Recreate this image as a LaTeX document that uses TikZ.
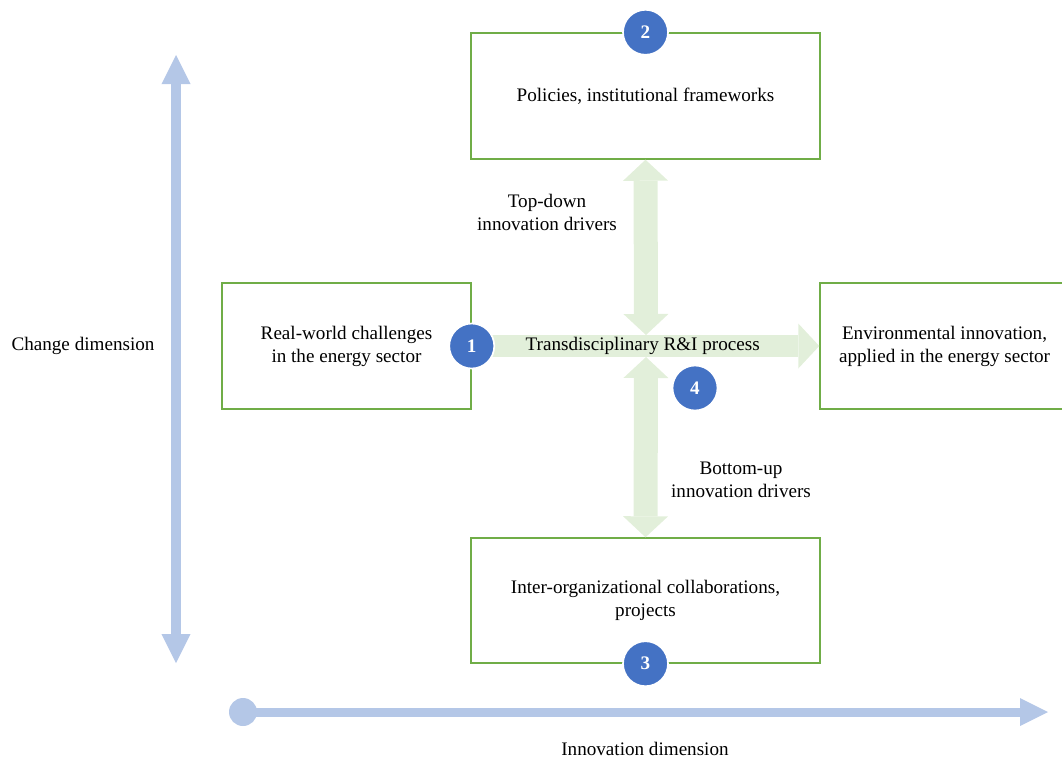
\documentclass[tikz,border=0pt]{standalone}
\usepackage{fontspec}
\setmainfont{Liberation Serif}
\usepackage{xcolor}
\usetikzlibrary{arrows.meta,positioning}

\definecolor{boxgreen}{HTML}{70AD47}
\definecolor{flowgreen}{HTML}{E2EFDA}
\definecolor{dotblue}{HTML}{4472C4}
\definecolor{axisblue}{HTML}{B4C7E7}

\begin{document}
\begin{tikzpicture}[x=0.025cm, y=-0.025cm, font=\fontsize{13.6}{16.4}\selectfont,
    box/.style = {draw=boxgreen, line width=1pt, align=center, minimum height=3.15cm},
    dot/.style = {circle, fill=dotblue, draw=white, line width=1.2pt, minimum size=1.125cm,
                  inner sep=0pt, text=white, font=\fontsize{13.6}{16}\selectfont\bfseries},
    flow/.style = {draw=flowgreen, line width=0.6cm},
    axis/.style = {draw=axisblue, line width=0.25cm},
    flowtip/.tip = {Triangle[width=1.125cm, length=0.525cm, line width=0pt]},
    axtip/.tip = {Triangle[width=0.725cm, length=0.725cm, line width=0pt]}]
    \clip (0,0) rectangle (1062,759);

    % boxes
    \node[box, minimum width=8.725cm] (pol) at (645.5,96) {Policies, institutional frameworks};
    \node[box, minimum width=6.225cm] (real) at (346.5,346) {Real-world challenges\\in the energy sector};
    \node[box, minimum width=6.225cm] (env) at (944.5,346) {Environmental innovation,\\applied in the energy sector};
    \node[box, minimum width=8.725cm, minimum height=3.125cm] (proj) at (645.5,600.5) {Inter-organizational collaborations,\\projects};

    \coordinate (hubN) at (646,335);
    \coordinate (hubS) at (646,357);

    % R&I arrows
    \draw[flow, {flowtip}-{flowtip}] (pol.south) -- (hubN);
    \draw[flow, {flowtip}-{flowtip}] (hubS) -- (proj.north);
    \draw[flow, line width=0.55cm, -{flowtip}] (real.east) -- node[midway, xshift=-2] (rni) {Transdisciplinary R\&I process} (env.west);

    \node[align=center] (topdown) at (547,212) {Top-down\\innovation drivers};
    \node[align=center] (bottomup) at (741,480) {Bottom-up\\innovation drivers};

    % numbers
    \node[dot] (d_1) at (real.east) {1};
    \node[dot] (d_2) at (pol.north) {2};
    \node[dot] (d_3) at (proj.south) {3};
    \node[dot] (d_4) at (695,388) {4};

    % dimensions
    \coordinate (chgtop) at (176,55);
    \coordinate (chgbot) at (176,663);
    \draw[axis, {axtip}-{axtip}] (chgbot) -- (chgtop);
    \node (chglab) at (83,346) {Change dimension};

    \node[circle, fill=axisblue, minimum size=0.7cm, inner sep=0pt] (innstart) at (243,712) {};
    \coordinate (innend) at (1048,712);
    \draw[axis, line width=0.225cm, -{Triangle[width=0.7cm, length=0.7cm, line width=0pt]}] (innstart.center) -- (innend);
    \node (innlab) at (645,749) {Innovation dimension};
\end{tikzpicture}
\end{document}
